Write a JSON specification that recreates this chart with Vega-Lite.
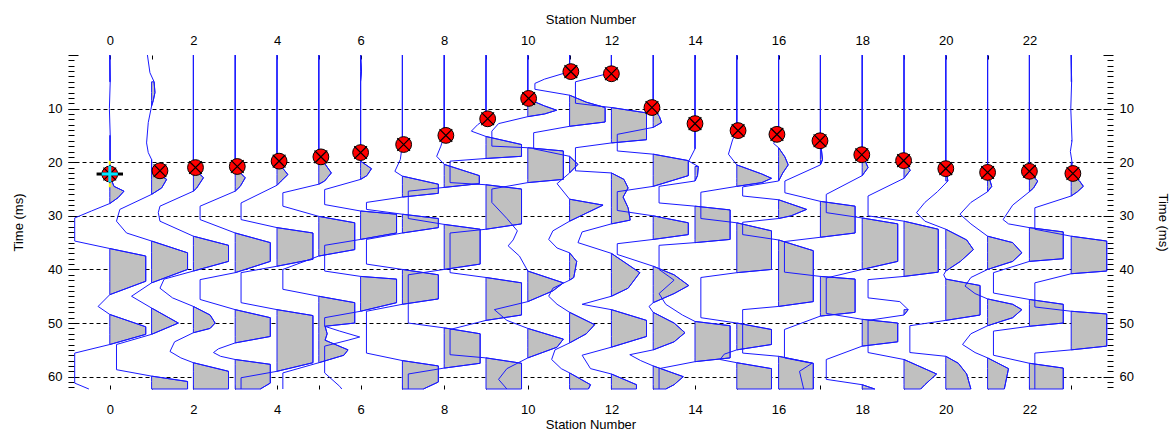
{
"$schema":"https://vega.github.io/schema/vega-lite/v6.json",
"width":1045,"height":334,"autosize":{"type":"none"},
"padding":{"left":68,"top":55,"right":58,"bottom":44},
"background":"white",
"config":{"view":{"stroke":null},"axis":{"labelFont":"Liberation Sans","titleFont":"Liberation Sans","labelFontSize":13,"titleFontSize":13,"titleFontWeight":"normal","labelColor":"#000","titleColor":"#000","tickColor":"#000","domain":false}},
"datasets":{
"traces":[
{"s":0,"t":0,"x":0},{"s":0,"t":5,"x":0.01},{"s":0,"t":10,"x":-0.01},{"s":0,"t":15,"x":0.01},{"s":0,"t":20,"x":0.01},{"s":0,"t":22.5,"x":0},{"s":0,"t":24.5,"x":0.1},{"s":0,"t":25.4,"x":0.34},{"s":0,"t":26.6,"x":0.2},{"s":0,"t":27.7,"x":0},{"s":0,"t":29.1,"x":-0.44},{"s":0,"t":30.4,"x":-0.84},{"s":0,"t":34.7,"x":-0.84},{"s":0,"t":36.1,"x":0},{"s":0,"t":37.5,"x":0.86},{"s":0,"t":42.2,"x":0.86},{"s":0,"t":44.7,"x":0},{"s":0,"t":46.9,"x":-0.28},{"s":0,"t":48.4,"x":0},{"s":0,"t":50.7,"x":0.86},{"s":0,"t":52.1,"x":0.86},{"s":0,"t":54,"x":0},{"s":0,"t":55.6,"x":-0.84},{"s":0,"t":61.2,"x":-0.84},{"s":0,"t":62.3,"x":-0.5},
{"s":1,"t":0,"x":0.9},{"s":1,"t":3.3,"x":0.96},{"s":1,"t":5,"x":1.06},{"s":1,"t":7,"x":1.08},{"s":1,"t":8.5,"x":1.04},{"s":1,"t":9.5,"x":1},{"s":1,"t":12.6,"x":0.92},{"s":1,"t":16.4,"x":0.88},{"s":1,"t":18.2,"x":0.92},{"s":1,"t":19.5,"x":1},{"s":1,"t":21.5,"x":1},{"s":1,"t":23.2,"x":1.36},{"s":1,"t":24.8,"x":1.24},{"s":1,"t":26,"x":1},{"s":1,"t":28.8,"x":0.24},{"s":1,"t":31,"x":0.16},{"s":1,"t":33.2,"x":0.4},{"s":1,"t":34.7,"x":1},{"s":1,"t":36.9,"x":1.86},{"s":1,"t":40,"x":1.86},{"s":1,"t":42.5,"x":1},{"s":1,"t":45,"x":0.52},{"s":1,"t":47.2,"x":1},{"s":1,"t":50,"x":1.64},{"s":1,"t":52.1,"x":1},{"s":1,"t":54,"x":0.16},{"s":1,"t":58.7,"x":0.16},{"s":1,"t":59.9,"x":1},{"s":1,"t":60.9,"x":1.86},{"s":1,"t":62.3,"x":1.86},
{"s":2,"t":0,"x":2},{"s":2,"t":21,"x":2},{"s":2,"t":22.9,"x":2.24},{"s":2,"t":24.8,"x":2.08},{"s":2,"t":25.4,"x":2},{"s":2,"t":28.2,"x":1.2},{"s":2,"t":29.4,"x":1.16},{"s":2,"t":31,"x":1.2},{"s":2,"t":33.8,"x":2},{"s":2,"t":35.5,"x":2.84},{"s":2,"t":38.5,"x":2.84},{"s":2,"t":40.3,"x":2},{"s":2,"t":41.8,"x":1.3},{"s":2,"t":43.5,"x":1.2},{"s":2,"t":45.3,"x":1.5},{"s":2,"t":46.9,"x":2},{"s":2,"t":48.5,"x":2.4},{"s":2,"t":50,"x":2.52},{"s":2,"t":51,"x":2.4},{"s":2,"t":51.8,"x":2},{"s":2,"t":53.5,"x":1.55},{"s":2,"t":55.3,"x":1.44},{"s":2,"t":56.5,"x":1.7},{"s":2,"t":57.4,"x":2},{"s":2,"t":59,"x":2.84},{"s":2,"t":62.3,"x":2.84},
{"s":3,"t":0,"x":3},{"s":3,"t":21,"x":3},{"s":3,"t":22.9,"x":3.24},{"s":3,"t":24.5,"x":3.12},{"s":3,"t":25.4,"x":3},{"s":3,"t":28.2,"x":2.16},{"s":3,"t":30.7,"x":2.16},{"s":3,"t":33.2,"x":3},{"s":3,"t":35,"x":3.84},{"s":3,"t":38.5,"x":3.84},{"s":3,"t":40.6,"x":3},{"s":3,"t":41.9,"x":2.16},{"s":3,"t":45.6,"x":2.16},{"s":3,"t":47.5,"x":3},{"s":3,"t":49,"x":3.84},{"s":3,"t":52.5,"x":3.84},{"s":3,"t":53.7,"x":3},{"s":3,"t":54.8,"x":2.6},{"s":3,"t":55.5,"x":2.48},{"s":3,"t":56.2,"x":2.65},{"s":3,"t":56.8,"x":3},{"s":3,"t":57.7,"x":3.84},{"s":3,"t":61.2,"x":3.84},{"s":3,"t":62.3,"x":3.6},
{"s":4,"t":0,"x":4},{"s":4,"t":19.8,"x":4},{"s":4,"t":22.3,"x":4.26},{"s":4,"t":23.5,"x":4.1},{"s":4,"t":24.3,"x":4},{"s":4,"t":27.6,"x":3.14},{"s":4,"t":30.7,"x":3.14},{"s":4,"t":32.2,"x":4},{"s":4,"t":33.2,"x":4.86},{"s":4,"t":38.1,"x":4.86},{"s":4,"t":39.4,"x":4},{"s":4,"t":40.6,"x":3.14},{"s":4,"t":46.2,"x":3.14},{"s":4,"t":47.5,"x":4},{"s":4,"t":48.6,"x":4.86},{"s":4,"t":57.4,"x":4.86},{"s":4,"t":59,"x":4},{"s":4,"t":60.2,"x":3.14},{"s":4,"t":62.3,"x":3.14},
{"s":5,"t":0,"x":5},{"s":5,"t":18.7,"x":5},{"s":5,"t":22,"x":5.3},{"s":5,"t":23.5,"x":5.14},{"s":5,"t":24.1,"x":5},{"s":5,"t":25.7,"x":4.14},{"s":5,"t":28.2,"x":4.14},{"s":5,"t":30.1,"x":5},{"s":5,"t":31.3,"x":5.86},{"s":5,"t":36.3,"x":5.86},{"s":5,"t":37.5,"x":5},{"s":5,"t":40,"x":4.14},{"s":5,"t":43.7,"x":4.14},{"s":5,"t":45,"x":5},{"s":5,"t":46.2,"x":5.86},{"s":5,"t":50,"x":5.86},{"s":5,"t":50.6,"x":5.15},{"s":5,"t":52,"x":5.2},{"s":5,"t":53.2,"x":5.15},{"s":5,"t":55,"x":5.7},{"s":5,"t":56,"x":5.6},{"s":5,"t":57.4,"x":5},{"s":5,"t":59.3,"x":4.14},{"s":5,"t":62.3,"x":4.14},
{"s":6,"t":0,"x":6},{"s":6,"t":3,"x":6.02},{"s":6,"t":5,"x":6},{"s":6,"t":19.8,"x":6},{"s":6,"t":21.2,"x":6.26},{"s":6,"t":22.5,"x":6.15},{"s":6,"t":23.2,"x":6},{"s":6,"t":25.1,"x":5.14},{"s":6,"t":27.9,"x":5.14},{"s":6,"t":29.1,"x":6},{"s":6,"t":29.7,"x":6.86},{"s":6,"t":33.2,"x":6.86},{"s":6,"t":34.4,"x":6},{"s":6,"t":35.5,"x":5.14},{"s":6,"t":40.3,"x":5.14},{"s":6,"t":41.3,"x":6},{"s":6,"t":41.8,"x":6.86},{"s":6,"t":46.2,"x":6.86},{"s":6,"t":47.8,"x":6},{"s":6,"t":49,"x":5.14},{"s":6,"t":50.6,"x":5.14},{"s":6,"t":51.5,"x":5.5},{"s":6,"t":52.6,"x":5.98},{"s":6,"t":53.2,"x":5.7},{"s":6,"t":54.3,"x":5.14},{"s":6,"t":59.3,"x":5.14},{"s":6,"t":61.8,"x":5.5},{"s":6,"t":62.3,"x":5.55},
{"s":7,"t":0,"x":7},{"s":7,"t":16.7,"x":7},{"s":7,"t":19.5,"x":6.95},{"s":7,"t":21.7,"x":6.82},{"s":7,"t":22.6,"x":7},{"s":7,"t":24.1,"x":7.86},{"s":7,"t":25.8,"x":7.86},{"s":7,"t":26.5,"x":7},{"s":7,"t":27.5,"x":6.14},{"s":7,"t":28.8,"x":6.14},{"s":7,"t":29.7,"x":7},{"s":7,"t":30.5,"x":7.86},{"s":7,"t":32.2,"x":7.86},{"s":7,"t":33.2,"x":7},{"s":7,"t":34.4,"x":6.14},{"s":7,"t":39,"x":6.14},{"s":7,"t":40,"x":7},{"s":7,"t":41,"x":7.86},{"s":7,"t":45.5,"x":7.86},{"s":7,"t":46.5,"x":7},{"s":7,"t":47.8,"x":6.14},{"s":7,"t":55.6,"x":6.14},{"s":7,"t":57,"x":7},{"s":7,"t":58,"x":7.86},{"s":7,"t":61,"x":7.86},{"s":7,"t":62.3,"x":7.5},
{"s":8,"t":0,"x":8},{"s":8,"t":15.1,"x":8},{"s":8,"t":17,"x":7.92},{"s":8,"t":18.9,"x":7.82},{"s":8,"t":20.4,"x":8},{"s":8,"t":22.5,"x":8.84},{"s":8,"t":24,"x":8.84},{"s":8,"t":24.7,"x":8},{"s":8,"t":25.4,"x":7.14},{"s":8,"t":30.5,"x":7.14},{"s":8,"t":31.6,"x":8},{"s":8,"t":32.5,"x":8.86},{"s":8,"t":39,"x":8.86},{"s":8,"t":40,"x":8},{"s":8,"t":41,"x":7.14},{"s":8,"t":50,"x":7.14},{"s":8,"t":50.9,"x":8},{"s":8,"t":52,"x":8.86},{"s":8,"t":57.5,"x":8.86},{"s":8,"t":58.4,"x":8},{"s":8,"t":59.5,"x":7.14},{"s":8,"t":62.3,"x":7.14},
{"s":9,"t":0,"x":9},{"s":9,"t":11.9,"x":9},{"s":9,"t":13,"x":8.8},{"s":9,"t":14.2,"x":8.65},{"s":9,"t":15.2,"x":9},{"s":9,"t":16.7,"x":9.85},{"s":9,"t":18.9,"x":9.85},{"s":9,"t":19.3,"x":9},{"s":9,"t":19.8,"x":8.14},{"s":9,"t":23.8,"x":8.14},{"s":9,"t":24.2,"x":9},{"s":9,"t":25,"x":9.85},{"s":9,"t":31.5,"x":9.85},{"s":9,"t":32.5,"x":9},{"s":9,"t":33.2,"x":8.14},{"s":9,"t":40.6,"x":8.14},{"s":9,"t":41.5,"x":9},{"s":9,"t":42.5,"x":9.85},{"s":9,"t":48.5,"x":9.85},{"s":9,"t":49.5,"x":9},{"s":9,"t":51.2,"x":8.14},{"s":9,"t":55.9,"x":8.14},{"s":9,"t":56.5,"x":9},{"s":9,"t":57.5,"x":9.85},{"s":9,"t":62.3,"x":9.85},
{"s":10,"t":0,"x":10},{"s":10,"t":8.2,"x":10},{"s":10,"t":9.5,"x":10.4},{"s":10,"t":10.3,"x":10.69},{"s":10,"t":11,"x":10.4},{"s":10,"t":11.5,"x":10},{"s":10,"t":12.8,"x":9.3},{"s":10,"t":14.2,"x":9.14},{"s":10,"t":17,"x":9.14},{"s":10,"t":17.3,"x":10},{"s":10,"t":17.9,"x":10.85},{"s":10,"t":23.2,"x":10.85},{"s":10,"t":23.8,"x":10},{"s":10,"t":25,"x":9.14},{"s":10,"t":27.5,"x":9.14},{"s":10,"t":30.5,"x":9.5},{"s":10,"t":32.8,"x":9.75},{"s":10,"t":34.5,"x":9.65},{"s":10,"t":35.6,"x":9.53},{"s":10,"t":37.5,"x":9.8},{"s":10,"t":40.3,"x":10},{"s":10,"t":42.5,"x":10.85},{"s":10,"t":44,"x":10.6},{"s":10,"t":46,"x":10},{"s":10,"t":47.5,"x":9.2},{"s":10,"t":49.5,"x":9.5},{"s":10,"t":51,"x":10},{"s":10,"t":53,"x":10.85},{"s":10,"t":54.5,"x":10.7},{"s":10,"t":56.5,"x":10},{"s":10,"t":58.5,"x":9.5},{"s":10,"t":60.5,"x":9.3},{"s":10,"t":62.3,"x":9.5},
{"s":11,"t":0,"x":11},{"s":11,"t":3.1,"x":11},{"s":11,"t":4.5,"x":10.4},{"s":11,"t":5.3,"x":10.17},{"s":11,"t":6.4,"x":10.17},{"s":11,"t":7.5,"x":11},{"s":11,"t":8.8,"x":11.4},{"s":11,"t":9.8,"x":11.85},{"s":11,"t":12.5,"x":11.85},{"s":11,"t":13.3,"x":11},{"s":11,"t":14.5,"x":10.14},{"s":11,"t":17.5,"x":10.14},{"s":11,"t":18.9,"x":11},{"s":11,"t":20.4,"x":11.2},{"s":11,"t":22,"x":11},{"s":11,"t":24,"x":10.7},{"s":11,"t":26.9,"x":11},{"s":11,"t":28,"x":11.8},{"s":11,"t":29.5,"x":11.4},{"s":11,"t":31,"x":11},{"s":11,"t":32.8,"x":10.6},{"s":11,"t":34.4,"x":10.5},{"s":11,"t":36,"x":10.7},{"s":11,"t":36.9,"x":11},{"s":11,"t":38.5,"x":11.17},{"s":11,"t":41.5,"x":11.1},{"s":11,"t":42,"x":11},{"s":11,"t":43.5,"x":10.6},{"s":11,"t":45,"x":10.5},{"s":11,"t":46.5,"x":10.7},{"s":11,"t":48,"x":11},{"s":11,"t":50.3,"x":11.6},{"s":11,"t":52,"x":11.4},{"s":11,"t":53.7,"x":11},{"s":11,"t":55,"x":10.65},{"s":11,"t":56.8,"x":10.57},{"s":11,"t":58.5,"x":10.8},{"s":11,"t":59.3,"x":11},{"s":11,"t":61.5,"x":11.5},{"s":11,"t":62.3,"x":11.45},
{"s":12,"t":0,"x":12},{"s":12,"t":3.3,"x":12},{"s":12,"t":5,"x":11.14},{"s":12,"t":9,"x":11.14},{"s":12,"t":9.8,"x":12},{"s":12,"t":10.8,"x":12.84},{"s":12,"t":15.8,"x":12.84},{"s":12,"t":16.4,"x":12},{"s":12,"t":17.3,"x":11.14},{"s":12,"t":21.6,"x":11.14},{"s":12,"t":22,"x":12},{"s":12,"t":23.2,"x":12.3},{"s":12,"t":24.8,"x":12.4},{"s":12,"t":26.5,"x":12.28},{"s":12,"t":28.5,"x":12.4},{"s":12,"t":30.8,"x":12.45},{"s":12,"t":31.5,"x":12},{"s":12,"t":33,"x":11.3},{"s":12,"t":35,"x":11.2},{"s":12,"t":37,"x":12},{"s":12,"t":40.6,"x":12.68},{"s":12,"t":43.5,"x":12.4},{"s":12,"t":45,"x":12},{"s":12,"t":46.5,"x":11.3},{"s":12,"t":47.5,"x":12},{"s":12,"t":49.5,"x":12.84},{"s":12,"t":52.5,"x":12.84},{"s":12,"t":54.5,"x":12},{"s":12,"t":56,"x":11.3},{"s":12,"t":58.5,"x":11.5},{"s":12,"t":59.5,"x":12},{"s":12,"t":61.5,"x":12.6},{"s":12,"t":62.3,"x":12.6},
{"s":13,"t":0,"x":13},{"s":13,"t":9.8,"x":13},{"s":13,"t":11.5,"x":13.15},{"s":13,"t":12.6,"x":13.2},{"s":13,"t":13.5,"x":13},{"s":13,"t":14.8,"x":12.14},{"s":13,"t":17.9,"x":12.14},{"s":13,"t":18.5,"x":13},{"s":13,"t":19.7,"x":13.84},{"s":13,"t":22.5,"x":13.84},{"s":13,"t":24.5,"x":13},{"s":13,"t":25.5,"x":12.14},{"s":13,"t":29,"x":12.14},{"s":13,"t":30,"x":13},{"s":13,"t":31.3,"x":13.84},{"s":13,"t":33.5,"x":13.84},{"s":13,"t":34.4,"x":13},{"s":13,"t":35.2,"x":12.14},{"s":13,"t":37.2,"x":12.14},{"s":13,"t":39.4,"x":13},{"s":13,"t":41,"x":13.5},{"s":13,"t":43,"x":13.85},{"s":13,"t":44.5,"x":13.5},{"s":13,"t":46.2,"x":13},{"s":13,"t":46.9,"x":12.9},{"s":13,"t":48,"x":13},{"s":13,"t":50,"x":13.5},{"s":13,"t":51.8,"x":13.76},{"s":13,"t":53.5,"x":13.5},{"s":13,"t":55,"x":13},{"s":13,"t":55.9,"x":12.44},{"s":13,"t":57,"x":12.7},{"s":13,"t":58,"x":13},{"s":13,"t":60,"x":13.72},{"s":13,"t":61.5,"x":13.5},{"s":13,"t":62.3,"x":13.3},
{"s":14,"t":0,"x":14},{"s":14,"t":12.6,"x":14},{"s":14,"t":17.5,"x":14},{"s":14,"t":19.8,"x":13.85},{"s":14,"t":20.8,"x":14.08},{"s":14,"t":22.5,"x":14.06},{"s":14,"t":23.5,"x":14},{"s":14,"t":24.5,"x":13.14},{"s":14,"t":27.6,"x":13.14},{"s":14,"t":28.2,"x":14},{"s":14,"t":28.9,"x":14.84},{"s":14,"t":34.4,"x":14.84},{"s":14,"t":35,"x":14},{"s":14,"t":35.5,"x":13.14},{"s":14,"t":40,"x":13.14},{"s":14,"t":42,"x":13.5},{"s":14,"t":44.5,"x":13.14},{"s":14,"t":46.5,"x":13.3},{"s":14,"t":48.5,"x":13.7},{"s":14,"t":49.7,"x":14},{"s":14,"t":50.5,"x":14.84},{"s":14,"t":56.5,"x":14.84},{"s":14,"t":57.2,"x":14},{"s":14,"t":58.5,"x":13.14},{"s":14,"t":62.3,"x":13.14},
{"s":15,"t":0,"x":15},{"s":15,"t":14.2,"x":15},{"s":15,"t":15.8,"x":14.9},{"s":15,"t":18.5,"x":14.8},{"s":15,"t":20.5,"x":15},{"s":15,"t":22.2,"x":15.6},{"s":15,"t":23,"x":15.83},{"s":15,"t":23.8,"x":15.6},{"s":15,"t":24.5,"x":15},{"s":15,"t":25.6,"x":14.14},{"s":15,"t":30.5,"x":14.14},{"s":15,"t":31.3,"x":15},{"s":15,"t":32.8,"x":15.83},{"s":15,"t":40,"x":15.83},{"s":15,"t":40.6,"x":15},{"s":15,"t":41.5,"x":14.14},{"s":15,"t":49,"x":14.14},{"s":15,"t":50,"x":15},{"s":15,"t":51.2,"x":15.83},{"s":15,"t":54,"x":15.83},{"s":15,"t":55,"x":15},{"s":15,"t":55.8,"x":14.7},{"s":15,"t":56.8,"x":14.6},{"s":15,"t":57.4,"x":15},{"s":15,"t":58.5,"x":15.83},{"s":15,"t":62.3,"x":15.83},
{"s":16,"t":0,"x":16},{"s":16,"t":14.8,"x":16},{"s":16,"t":16.5,"x":15.88},{"s":16,"t":17.3,"x":16},{"s":16,"t":19,"x":16.15},{"s":16,"t":20.5,"x":16.23},{"s":16,"t":22,"x":16.1},{"s":16,"t":23.5,"x":16},{"s":16,"t":24.6,"x":15.14},{"s":16,"t":26.3,"x":15.14},{"s":16,"t":27,"x":16},{"s":16,"t":28.8,"x":16.67},{"s":16,"t":30,"x":16.3},{"s":16,"t":30.5,"x":16},{"s":16,"t":31.2,"x":15.14},{"s":16,"t":33.5,"x":15.14},{"s":16,"t":34.5,"x":16},{"s":16,"t":36.5,"x":16.83},{"s":16,"t":46,"x":16.83},{"s":16,"t":46.9,"x":16},{"s":16,"t":47.5,"x":15.14},{"s":16,"t":55.6,"x":15.14},{"s":16,"t":56.2,"x":16},{"s":16,"t":57.5,"x":16.83},{"s":16,"t":62.3,"x":16.83},
{"s":17,"t":0,"x":17},{"s":17,"t":15.9,"x":17},{"s":17,"t":19.5,"x":17.05},{"s":17,"t":20.5,"x":17},{"s":17,"t":23.5,"x":16.15},{"s":17,"t":25.7,"x":16.15},{"s":17,"t":27.3,"x":17},{"s":17,"t":28.2,"x":17.83},{"s":17,"t":33.2,"x":17.83},{"s":17,"t":34,"x":17},{"s":17,"t":34.8,"x":16.14},{"s":17,"t":40.5,"x":16.14},{"s":17,"t":41.3,"x":17},{"s":17,"t":41.8,"x":17.83},{"s":17,"t":48,"x":17.83},{"s":17,"t":48.7,"x":17},{"s":17,"t":51.2,"x":16.14},{"s":17,"t":56.5,"x":16.14},{"s":17,"t":57.5,"x":16.8},{"s":17,"t":59,"x":16.5},{"s":17,"t":62.3,"x":16.6},
{"s":18,"t":0,"x":18},{"s":18,"t":18.5,"x":18},{"s":18,"t":21,"x":18.14},{"s":18,"t":22.5,"x":18},{"s":18,"t":26,"x":17.14},{"s":18,"t":29.4,"x":17.14},{"s":18,"t":30.4,"x":18},{"s":18,"t":31.5,"x":18.85},{"s":18,"t":38.5,"x":18.85},{"s":18,"t":40,"x":18},{"s":18,"t":41.6,"x":17.14},{"s":18,"t":48.2,"x":17.14},{"s":18,"t":49.3,"x":18},{"s":18,"t":50,"x":18.85},{"s":18,"t":53.5,"x":18.85},{"s":18,"t":54.3,"x":18},{"s":18,"t":56.8,"x":17.14},{"s":18,"t":60.5,"x":17.14},{"s":18,"t":61.5,"x":18},{"s":18,"t":62.3,"x":18.3},
{"s":19,"t":0,"x":19},{"s":19,"t":19.8,"x":19},{"s":19,"t":21.5,"x":19.15},{"s":19,"t":23,"x":19},{"s":19,"t":26.3,"x":18.14},{"s":19,"t":30,"x":18.14},{"s":19,"t":31,"x":19},{"s":19,"t":32.5,"x":19.82},{"s":19,"t":40.5,"x":19.82},{"s":19,"t":41.3,"x":19},{"s":19,"t":41.9,"x":18.14},{"s":19,"t":45.3,"x":18.14},{"s":19,"t":46,"x":18.9},{"s":19,"t":47.5,"x":19.1},{"s":19,"t":48.5,"x":19},{"s":19,"t":49.5,"x":18.14},{"s":19,"t":55.5,"x":18.14},{"s":19,"t":56.8,"x":19},{"s":19,"t":59.5,"x":19.78},{"s":19,"t":61.5,"x":19.5},{"s":19,"t":62.3,"x":19.4},
{"s":20,"t":0,"x":20},{"s":20,"t":21.2,"x":20},{"s":20,"t":23.5,"x":20.05},{"s":20,"t":25.5,"x":19.8},{"s":20,"t":27.5,"x":19.5},{"s":20,"t":29.4,"x":19.3},{"s":20,"t":31,"x":19.5},{"s":20,"t":32.5,"x":20},{"s":20,"t":34.5,"x":20.5},{"s":20,"t":36.3,"x":20.66},{"s":20,"t":38.5,"x":20.35},{"s":20,"t":40.3,"x":20},{"s":20,"t":41,"x":19.95},{"s":20,"t":41.8,"x":20},{"s":20,"t":43,"x":20.82},{"s":20,"t":48.5,"x":20.82},{"s":20,"t":49.5,"x":20},{"s":20,"t":50.5,"x":19.14},{"s":20,"t":55.5,"x":19.14},{"s":20,"t":56.2,"x":20},{"s":20,"t":57.5,"x":20.3},{"s":20,"t":59.5,"x":20.5},{"s":20,"t":62.3,"x":20.6},
{"s":21,"t":0,"x":21},{"s":21,"t":22,"x":21},{"s":21,"t":24.5,"x":21.1},{"s":21,"t":25.5,"x":21},{"s":21,"t":27.5,"x":20.6},{"s":21,"t":29.7,"x":20.34},{"s":21,"t":31.5,"x":20.6},{"s":21,"t":33.8,"x":21},{"s":21,"t":35,"x":21.6},{"s":21,"t":36.9,"x":21.82},{"s":21,"t":38.5,"x":21.6},{"s":21,"t":40,"x":21},{"s":21,"t":41.5,"x":20.6},{"s":21,"t":43.1,"x":20.46},{"s":21,"t":44.5,"x":20.7},{"s":21,"t":45.5,"x":21},{"s":21,"t":46.5,"x":21.6},{"s":21,"t":47.5,"x":21.82},{"s":21,"t":49,"x":21.6},{"s":21,"t":50.5,"x":21},{"s":21,"t":52,"x":20.6},{"s":21,"t":54,"x":20.4},{"s":21,"t":55.5,"x":20.7},{"s":21,"t":56.5,"x":21},{"s":21,"t":58.5,"x":21.5},{"s":21,"t":62.3,"x":21.4},
{"s":22,"t":0,"x":22},{"s":22,"t":22,"x":22},{"s":22,"t":23.5,"x":22.2},{"s":22,"t":24.8,"x":22.1},{"s":22,"t":25.5,"x":22},{"s":22,"t":28,"x":21.6},{"s":22,"t":30.7,"x":21.37},{"s":22,"t":31.5,"x":21.5},{"s":22,"t":32.2,"x":22},{"s":22,"t":33,"x":22.81},{"s":22,"t":38,"x":22.81},{"s":22,"t":38.5,"x":22},{"s":22,"t":40.6,"x":21.14},{"s":22,"t":44.4,"x":21.14},{"s":22,"t":45.6,"x":22},{"s":22,"t":46.5,"x":22.81},{"s":22,"t":50,"x":22.81},{"s":22,"t":50.6,"x":22},{"s":22,"t":51.5,"x":21.14},{"s":22,"t":56,"x":21.14},{"s":22,"t":57.5,"x":22},{"s":22,"t":58.4,"x":22.81},{"s":22,"t":62.3,"x":22.81},
{"s":23,"t":0,"x":23},{"s":23,"t":5,"x":23.01},{"s":23,"t":10,"x":22.99},{"s":23,"t":16,"x":23.02},{"s":23,"t":18,"x":22.98},{"s":23,"t":20,"x":23.02},{"s":23,"t":22.2,"x":23},{"s":23,"t":23.5,"x":23.2},{"s":23,"t":24.5,"x":23.29},{"s":23,"t":25.5,"x":23.15},{"s":23,"t":26.3,"x":23},{"s":23,"t":28.5,"x":22.13},{"s":23,"t":32.5,"x":22.13},{"s":23,"t":33.8,"x":23},{"s":23,"t":34.7,"x":23.85},{"s":23,"t":40.3,"x":23.85},{"s":23,"t":40.8,"x":23},{"s":23,"t":42.5,"x":22.13},{"s":23,"t":47,"x":22.13},{"s":23,"t":47.8,"x":23},{"s":23,"t":48.3,"x":23.85},{"s":23,"t":54.3,"x":23.85},{"s":23,"t":55,"x":23},{"s":23,"t":55.6,"x":22.13},{"s":23,"t":62.3,"x":22.13}
],
"picks":[
{"s":0,"x":0,"t":22.2},{"s":1,"x":1.2,"t":21.6},{"s":2,"x":2.05,"t":21.0},{"s":3,"x":3.05,"t":20.8},{"s":4,"x":4.05,"t":19.8},{"s":5,"x":5.05,"t":19.0},{"s":6,"x":6.0,"t":18.2},{"s":7,"x":7.03,"t":16.7},{"s":8,"x":8.04,"t":15.0},{"s":9,"x":9.04,"t":11.9},{"s":10,"x":10.02,"t":8.1},{"s":11,"x":11.03,"t":3.1},{"s":12,"x":12.0,"t":3.5},{"s":13,"x":12.97,"t":9.8},{"s":14,"x":14.0,"t":12.8},{"s":15,"x":15.03,"t":14.1},{"s":16,"x":15.96,"t":14.8},{"s":17,"x":16.99,"t":16.0},{"s":18,"x":17.99,"t":18.6},{"s":19,"x":18.99,"t":19.7},{"s":20,"x":20.0,"t":21.2},{"s":21,"x":21.0,"t":21.9},{"s":22,"x":22.0,"t":21.7},{"s":23,"x":23.04,"t":22.1}
],
"cursor":[{"x":0,"t":22.2}]
},
"layer":[
{"data":{"name":"traces"},
 "transform":[{"calculate":"datum.x >= datum.s ? datum.x : null","as":"xp"}],
 "mark":{"type":"area","orient":"horizontal","fill":"#c0c0c0","stroke":"#1a1aff","strokeWidth":1,"invalid":"break-paths-filter-domains"},
 "encoding":{
  "x":{"field":"xp","type":"quantitative","scale":{"domain":[-1,24],"nice":false,"zero":false},
   "axis":{"orient":"bottom","values":[0,1,2,3,4,5,6,7,8,9,10,11,12,13,14,15,16,17,18,19,20,21,22,23],"labelExpr":"datum.value % 2 === 0 ? datum.label : ''","title":"Station Number","tickSize":-4,"labelPadding":18,"grid":false,"titlePadding":2,"labelFlush":false}},
  "x2":{"field":"s"},
  "y":{"field":"t","type":"quantitative","scale":{"domain":[0,62.3],"reverse":true,"nice":false,"zero":false},
   "axis":{"orient":"left","values":[0,1,2,3,4,5,6,7,8,9,10,11,12,13,14,15,16,17,18,19,20,21,22,23,24,25,26,27,28,29,30,31,32,33,34,35,36,37,38,39,40,41,42,43,44,45,46,47,48,49,50,51,52,53,54,55,56,57,58,59,60,61,62],
    "labelExpr":"datum.value % 10 === 0 && datum.value > 0 ? datum.label : ''",
    "tickSize":{"condition":{"test":"datum.value % 10 === 0","value":-10},"value":-6},
    "labelPadding":16,"labelFlush":false,
    "grid":true,"gridColor":"#000","gridDash":[4,3],"gridWidth":1,
    "gridOpacity":{"condition":{"test":"datum.value % 10 === 0 && datum.value > 0","value":1},"value":0},
    "title":"Time (ms)","titlePadding":22}},
  "detail":{"field":"s","type":"nominal"}
 }
},
{"data":{"name":"traces"},
 "mark":{"type":"line","color":"#1a1aff","strokeWidth":1},
 "encoding":{
  "x":{"field":"x","type":"quantitative",
   "axis":{"orient":"top","values":[0,1,2,3,4,5,6,7,8,9,10,11,12,13,14,15,16,17,18,19,20,21,22,23],"labelExpr":"datum.value % 2 === 0 ? datum.label : ''","title":"Station Number","tickSize":-4,"labelPadding":12,"grid":false,"titlePadding":8,"labelFlush":false}},
  "y":{"field":"t","type":"quantitative",
   "axis":{"orient":"right","values":[0,1,2,3,4,5,6,7,8,9,10,11,12,13,14,15,16,17,18,19,20,21,22,23,24,25,26,27,28,29,30,31,32,33,34,35,36,37,38,39,40,41,42,43,44,45,46,47,48,49,50,51,52,53,54,55,56,57,58,59,60,61,62],
    "labelExpr":"datum.value % 10 === 0 && datum.value > 0 ? datum.label : ''",
    "tickSize":{"condition":{"test":"datum.value % 10 === 0","value":-10},"value":-6},
    "labelPadding":16,"labelFlush":false,"grid":false,
    "title":"Time (ms)","titlePadding":22}},
  "detail":{"field":"s","type":"nominal"},
  "order":{"field":"t","type":"quantitative"}
 }
},
{"data":{"name":"picks"},
 "mark":{"type":"point","shape":"circle","filled":true,"fill":"#ff0000","stroke":"#000","strokeWidth":1,"size":250,"opacity":1},
 "encoding":{"x":{"field":"x","type":"quantitative","axis":null},"y":{"field":"t","type":"quantitative","axis":null}}
},
{"data":{"name":"picks"},
 "mark":{"type":"point","shape":"M-0.7,-0.7L0.7,0.7M-0.7,0.7L0.7,-0.7","filled":false,"stroke":"#000","strokeWidth":1.2,"size":330,"opacity":1},
 "encoding":{"x":{"field":"x","type":"quantitative","axis":null},"y":{"field":"t","type":"quantitative","axis":null}}
},
{"data":{"name":"cursor"},
 "mark":{"type":"point","shape":"M-1,0L1,0","filled":false,"stroke":"#000","strokeWidth":3,"size":700,"opacity":1},
 "encoding":{"x":{"field":"x","type":"quantitative","axis":null},"y":{"field":"t","type":"quantitative","axis":null}}
},
{"data":{"name":"cursor"},
 "mark":{"type":"point","shape":"M0,-1L0,-0.7M0,0.7L0,1","filled":false,"stroke":"#ffff00","strokeWidth":2,"size":700,"opacity":1},
 "encoding":{"x":{"field":"x","type":"quantitative","axis":null},"y":{"field":"t","type":"quantitative","axis":null}}
},
{"data":{"name":"cursor"},
 "mark":{"type":"point","shape":"M-1,0L1,0M0,-1L0,1","filled":false,"stroke":"#00e5ff","strokeWidth":3,"size":260,"opacity":1},
 "encoding":{"x":{"field":"x","type":"quantitative","axis":null},"y":{"field":"t","type":"quantitative","axis":null}}
}
],
"resolve":{"axis":{"x":"independent","y":"independent"}}
}
